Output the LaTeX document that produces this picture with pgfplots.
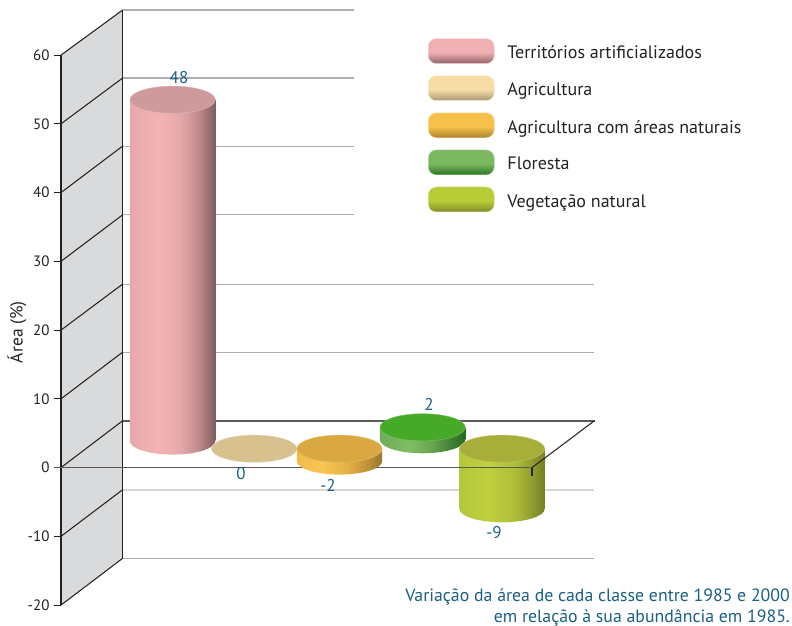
\documentclass[border=0pt]{standalone}
\usepackage{fontspec}
\setmainfont{PT Sans}
\usepackage{pgfplots}
\pgfplotsset{compat=1.18}
\definecolor{lab}{HTML}{1A5F84}
\definecolor{txt}{HTML}{222222}
\definecolor{wallc}{HTML}{D9DADC}
\definecolor{backc}{HTML}{AFAFAF}
\definecolor{darkc}{HTML}{5A5A5A}
\definecolor{lightc}{HTML}{D6D6D6}
\definecolor{topp}{HTML}{CF9A9B}
\definecolor{topt}{HTML}{D8C08F}
\definecolor{topo}{HTML}{D9A840}
\definecolor{topg}{HTML}{46A927}
\definecolor{topl}{HTML}{A7AF3A}
\definecolor{pink0}{HTML}{E8A8AB}\definecolor{pink1}{HTML}{F5B2B4}\definecolor{pink2}{HTML}{E5A8AA}\definecolor{pink3}{HTML}{BC8789}\definecolor{pink4}{HTML}{7F5D5F}
\definecolor{or0}{HTML}{F1BB48}\definecolor{or1}{HTML}{F8C553}\definecolor{or2}{HTML}{E4B047}\definecolor{or3}{HTML}{BC9036}\definecolor{or4}{HTML}{98762B}
\definecolor{gr0}{HTML}{6FAD59}\definecolor{gr1}{HTML}{80BD62}\definecolor{gr2}{HTML}{6AA652}\definecolor{gr3}{HTML}{3F7F35}\definecolor{gr4}{HTML}{256B20}
\definecolor{ol0}{HTML}{B4C73C}\definecolor{ol1}{HTML}{BFD03F}\definecolor{ol2}{HTML}{AEBD38}\definecolor{ol3}{HTML}{8F9A2D}\definecolor{ol4}{HTML}{747F23}
\definecolor{lp}{HTML}{F0B0B3}\definecolor{lpd}{HTML}{8F6064}
\definecolor{lt}{HTML}{F6DCA5}\definecolor{ltd}{HTML}{A89770}
\definecolor{lo}{HTML}{F6C04A}\definecolor{lod}{HTML}{A8822F}
\definecolor{lg}{HTML}{7CB860}\definecolor{lgd}{HTML}{2A7322}
\definecolor{ll}{HTML}{B8CC38}\definecolor{lld}{HTML}{7F8A27}
% horizontal body shadings (left to right, body spans 25bp..75bp)
\pgfdeclarehorizontalshading{bodypink}{100bp}{color(0bp)=(pink0);color(25bp)=(pink0);color(42bp)=(pink1);color(55bp)=(pink2);color(66bp)=(pink3);color(75bp)=(pink4);color(100bp)=(pink4)}
\pgfdeclarehorizontalshading{bodyorange}{100bp}{color(0bp)=(or0);color(25bp)=(or0);color(40bp)=(or1);color(55bp)=(or2);color(67bp)=(or3);color(75bp)=(or4);color(100bp)=(or4)}
\pgfdeclarehorizontalshading{bodygreen}{100bp}{color(0bp)=(gr0);color(25bp)=(gr0);color(42bp)=(gr1);color(55bp)=(gr2);color(67bp)=(gr3);color(75bp)=(gr4);color(100bp)=(gr4)}
\pgfdeclarehorizontalshading{bodyolive}{100bp}{color(0bp)=(ol0);color(25bp)=(ol0);color(42bp)=(ol1);color(58bp)=(ol2);color(68bp)=(ol3);color(75bp)=(ol4);color(100bp)=(ol4)}
% legend swatches (bottom to top)
\newcommand\legshade[3]{\pgfdeclareverticalshading{leg#1}{100bp}{color(0bp)=(#3);color(25bp)=(#3);color(47bp)=(#2);color(75bp)=(#2);color(100bp)=(#2)}}
\legshade{pink}{lp}{lpd}\legshade{tan}{lt}{ltd}\legshade{orange}{lo}{lod}\legshade{green}{lg}{lgd}\legshade{olive}{ll}{lld}
\newcommand\cylbase[1]{\pgfdeclareplotmark{base#1}{\pgfpathellipse{\pgfpointorigin}{\pgfqpoint{42.7pt}{0pt}}{\pgfqpoint{0pt}{13.6pt}}\pgfshadepath{body#1}{0}\pgfusepath{discard}}}
\cylbase{pink}\cylbase{orange}\cylbase{green}\cylbase{olive}
\pgfdeclareplotmark{cyltop}{\pgfpathellipse{\pgfpointorigin}{\pgfqpoint{42.7pt}{0pt}}{\pgfqpoint{0pt}{13.6pt}}\pgfusepathqfillstroke}
\pgfplotsset{
  F/.style={forget plot},
  back/.style={F,no marks,color=#1,line width=1.05pt},
  legimg/.style 2 args={legend image code/.code={\shade[shading=leg#1,rounded corners=8pt,draw=#2!45,line width=.5pt] (0pt,-10.5pt) rectangle (66pt,14.5pt);\path (79pt,0pt);}},
}
\begin{document}
\begin{tikzpicture}[x=1pt,y=1pt]
\begin{axis}[
  at={(61pt,20.9pt)},anchor=south west,scale only axis,width=471pt,height=550pt,
  xmin=61,xmax=532,ymin=-20,ymax=60,clip=false,
  axis x line=none,axis y line=left,
  axis line style={-,txt,line width=1.05pt},
  xtick=\empty,ytick={-20,-10,0,10,20,30,40,50,60},
  tick align=outside,major tick length=7pt,tick style={txt,line width=1.05pt},
  /pgf/number format/assume math mode=true,
  yticklabel style={font=\fontsize{15}{15}\selectfont,text=txt,xshift=-1pt},
  every axis y label/.style={at={(axis cs:17,19.7)},rotate=90,anchor=center},
  ylabel={\fontsize{17.5}{17.5}\selectfont\color{txt}Área (\%)},
  legend style={at={(axis cs:428,62.44)},anchor=north west,draw=none,fill=none,inner sep=0pt,outer sep=0pt,
    row sep=11.6pt,font=\fontsize{18}{18}\selectfont,text=txt,
    nodes={inner sep=0pt}},
  legend cell align=left,
]
% side wall
\addplot[F,draw=none,fill=wallc] coordinates {(61,60)(122.7,66.56)(122.7,-13.19)(61,-20)} -- cycle;
% back wall lines
\addplot[back=backc] coordinates {(122.7,66.56)(354,66.56)};
\addplot[back=backc] coordinates {(122.7,56.67)(354,56.67)};
\addplot[back=backc] coordinates {(122.7,46.77)(354,46.77)};
\addplot[back=backc] coordinates {(122.7,36.77)(354,36.77)};
\addplot[back=backc] coordinates {(122.7,26.70)(594,26.70)};
\addplot[back=backc] coordinates {(122.7,16.80)(594,16.80)};
\addplot[back=darkc,line width=1.8pt] coordinates {(122.7,6.82)(594.5,6.82)};
\addplot[back=lightc,line width=1.8pt] coordinates {(122.7,-3.21)(594,-3.21)};
\addplot[back=backc] coordinates {(122.7,-13.19)(594,-13.19)};
% wall diagonals and edges
\addplot[back=txt] coordinates {(61,60)(122.7,66.56)};
\addplot[back=txt] coordinates {(61,50)(122.7,56.67)};
\addplot[back=txt] coordinates {(61,40)(122.7,46.77)};
\addplot[back=txt] coordinates {(61,30)(122.7,36.77)};
\addplot[back=txt] coordinates {(61,20)(122.7,26.70)};
\addplot[back=txt] coordinates {(61,10)(122.7,16.80)};
\addplot[back=txt] coordinates {(61,0)(122.7,6.82)};
\addplot[back=txt] coordinates {(61,-10)(122.7,-3.21)};
\addplot[back=txt] coordinates {(61,-20)(122.7,-13.19)};
\addplot[back=txt] coordinates {(122.7,66.56)(122.7,-13.19)};
\addplot[back=txt] coordinates {(61,60)(61,-20)};
% cylinders: pink
\addplot[only marks,mark=basepink,F] coordinates {(172.6,3.87)};
\addplot[F,shade,shading=bodypink,draw=none,no marks] coordinates {(129.9,3.87)(215.3,3.87)(215.3,53.51)(129.9,53.51)} -- cycle;
\addplot[only marks,mark=cyltop,F,mark options={fill=topp,draw=topp!70!white,line width=.4pt}] coordinates {(172.6,53.51)};
% tan
\addplot[only marks,mark=cyltop,F,mark options={fill=topt,draw=topt!70!white,line width=.4pt}] coordinates {(254.2,2.75)};
% orange
\addplot[only marks,mark=baseorange,F] coordinates {(339.5,0.96)};
\addplot[F,shade,shading=bodyorange,draw=none,no marks] coordinates {(296.8,0.96)(382.2,0.96)(382.2,2.75)(296.8,2.75)} -- cycle;
\addplot[only marks,mark=cyltop,F,mark options={fill=topo,draw=topo!70!white,line width=.4pt}] coordinates {(339.5,2.75)};
% green
\addplot[only marks,mark=basegreen,F] coordinates {(422.6,4.06)};
\addplot[F,shade,shading=bodygreen,draw=none,no marks] coordinates {(379.9,4.06)(465.3,4.06)(465.3,5.86)(379.9,5.86)} -- cycle;
\addplot[only marks,mark=cyltop,F,mark options={fill=topg,draw=topg!70!white,line width=.4pt}] coordinates {(422.6,5.86)};
% olive
\addplot[only marks,mark=baseolive,F] coordinates {(502,-5.98)};
\addplot[F,shade,shading=bodyolive,draw=none,no marks] coordinates {(459.3,-5.98)(544.7,-5.98)(544.7,2.75)(459.3,2.75)} -- cycle;
\addplot[only marks,mark=cyltop,F,mark options={fill=topl,draw=topl!70!white,line width=.4pt}] coordinates {(502,2.75)};
% floor, front edge
\addplot[back=darkc,line width=1.8pt] coordinates {(54,0)(532,0)};
\addplot[back=txt] coordinates {(532,0)(594.5,6.82)};
\addplot[back=txt] coordinates {(532,0)(532,-1.2)};
% value labels
\addplot[F,only marks,mark=none,point meta=explicit symbolic,
  nodes near coords,
  nodes near coords style={anchor=center,inner sep=0pt,text=lab,font=\fontsize{17}{17}\selectfont}]
  table[meta=lab] {
x y lab
179 56.8 48
241 -0.93 0
328 -2.53 -2
429 9.25 2
494 -9.51 -9
};
% legend
\addlegendimage{legimg={pink}{lp}}\addlegendentry{Territórios artificializados}
\addlegendimage{legimg={tan}{lt}}\addlegendentry{Agricultura}
\addlegendimage{legimg={orange}{lo}}\addlegendentry{Agricultura com áreas naturais}
\addlegendimage{legimg={green}{lg}}\addlegendentry{Floresta}
\addlegendimage{legimg={olive}{ll}}\addlegendentry{Vegetação natural}
% caption
\node[anchor=base east,inner sep=0pt,text=lab,font=\fontsize{17.8}{17.8}\selectfont] at (axis cs:790,-19.5) {Variação da área de cada classe entre 1985 e 2000};
\node[anchor=base east,inner sep=0pt,text=lab,font=\fontsize{17.8}{17.8}\selectfont] at (axis cs:790,-22.46) {em relação à sua abundância em 1985.};
\end{axis}
\pgfresetboundingbox
\path[use as bounding box] (0,0) rectangle (792,626);
\end{tikzpicture}
\end{document}
